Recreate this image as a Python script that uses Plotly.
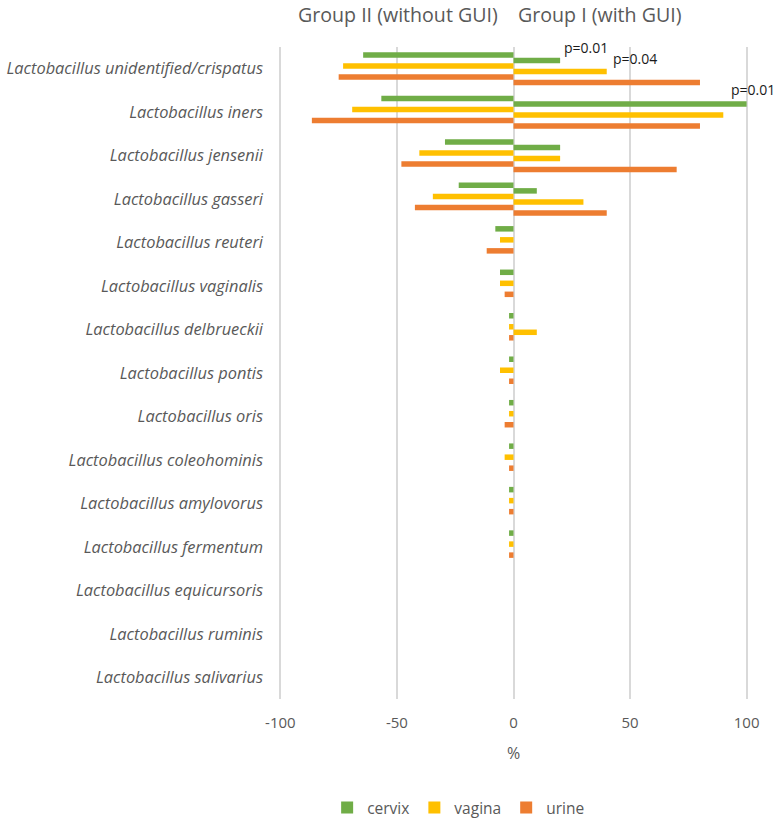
import plotly.graph_objects as go

categories = [
    "Lactobacillus unidentified/crispatus",
    "Lactobacillus iners",
    "Lactobacillus jensenii",
    "Lactobacillus gasseri",
    "Lactobacillus reuteri",
    "Lactobacillus vaginalis",
    "Lactobacillus delbrueckii",
    "Lactobacillus pontis",
    "Lactobacillus oris",
    "Lactobacillus coleohominis",
    "Lactobacillus amylovorus",
    "Lactobacillus fermentum",
    "Lactobacillus equicursoris",
    "Lactobacillus ruminis",
    "Lactobacillus salivarius",
]

# Group II (without GUI) shown as negative values, Group I (with GUI) as positive
g2_cervix = [-64.5, -56.7, -29.4, -23.5, -7.8, -5.8, -1.9, -1.9, -1.9, -1.9, -1.9, -1.9, 0, 0, 0]
g1_cervix = [20, 100, 20, 10, 0, 0, 0, 0, 0, 0, 0, 0, 0, 0, 0]
g2_vagina = [-73.1, -69.2, -40.4, -34.6, -5.8, -5.8, -1.9, -5.8, -1.9, -3.8, -1.9, -1.9, 0, 0, 0]
g1_vagina = [40, 90, 20, 30, 0, 0, 10, 0, 0, 0, 0, 0, 0, 0, 0]
g2_urine = [-75.0, -86.5, -48.1, -42.3, -11.5, -3.8, -1.9, -1.9, -3.8, -1.9, -1.9, -1.9, 0, 0, 0]
g1_urine = [80, 80, 70, 40, 0, 0, 0, 0, 0, 0, 0, 0, 0, 0, 0]

x_ticks = [-100, -50, 0, 50, 100]

p_labels = [
    (0, "cervix", "p=0.01"),
    (0, "vagina", "p=0.04"),
    (1, "cervix", "p=0.01"),
]

colors = {"cervix": "#70AD47", "vagina": "#FFC000", "urine": "#ED7D31"}
FONT = "Open Sans"
GRAY = "#595959"

series = [
    ("cervix", g2_cervix, False),
    ("cervix", g1_cervix, True),
    ("vagina", g2_vagina, False),
    ("vagina", g1_vagina, True),
    ("urine", g2_urine, False),
    ("urine", g1_urine, True),
]

fig = go.Figure()
for name, vals, show in series:
    fig.add_trace(go.Bar(
        y=categories, x=vals, orientation="h", name=name,
        legendgroup=name, showlegend=show,
        marker=dict(color=colors[name], line=dict(width=0)),
        hoverinfo="x+y+name",
    ))

pos_map = {"cervix": g1_cervix, "vagina": g1_vagina}
annotations = []
for i, (ci, s, txt) in enumerate(p_labels):
    v = pos_map[s][ci]
    if v >= 100:
        annotations.append(dict(x=v, y=categories[ci], text=txt, showarrow=False,
                                xanchor="center", yanchor="middle", xshift=6, yshift=23,
                                font=dict(family=FONT, size=14, color="#1a1a1a")))
    else:
        ysh = 21 if s == "cervix" else 10
        annotations.append(dict(x=v, y=categories[ci], text=txt, showarrow=False,
                                xanchor="left", yanchor="middle", xshift=2 if s == "cervix" else 4,
                                yshift=ysh,
                                font=dict(family=FONT, size=14, color="#1a1a1a")))

annotations.append(dict(x=0, xref="x", y=1, yref="paper", text="Group II (without GUI)",
                        showarrow=False, xanchor="right", yanchor="middle", xshift=-14, yshift=33,
                        font=dict(family=FONT, size=19.6, color=GRAY)))
annotations.append(dict(x=0, xref="x", y=1, yref="paper", text="Group I (with GUI)",
                        showarrow=False, xanchor="left", yanchor="middle", xshift=2, yshift=33,
                        font=dict(family=FONT, size=19.6, color=GRAY)))

fig.update_layout(
    width=780, height=822,
    margin=dict(l=279, r=32, t=47, b=123),
    paper_bgcolor="white", plot_bgcolor="white",
    barmode="group", bargap=0.24, bargroupgap=0,
    font=dict(family=FONT, color=GRAY),
    annotations=annotations,
    legend=dict(orientation="h", xref="container", yref="container",
                x=0.588, y=0.017, xanchor="center", yanchor="middle",
                font=dict(family=FONT, size=15.5, color=GRAY), itemwidth=30,
                traceorder="normal"),
    xaxis=dict(range=[-100.6, 100.6], tickvals=x_ticks, ticktext=[str(t) for t in x_ticks],
               showgrid=True, gridcolor="#D9D9D9", gridwidth=1.8,
               zeroline=True, zerolinecolor="#D9D9D9", zerolinewidth=1.8,
               showline=False, ticks="", ticklabelstandoff=13, automargin=False,
               tickfont=dict(family=FONT, size=15, color=GRAY),
               title=dict(text="%", standoff=16, font=dict(family=FONT, size=16, color=GRAY))),
    yaxis=dict(autorange="reversed", type="category", showgrid=False, showline=False,
               ticks="", ticklabelstandoff=15, automargin=False,
               tickfont=dict(family=FONT, size=16.4, color=GRAY, style="italic")),
)

fig.write_html("out.html")
